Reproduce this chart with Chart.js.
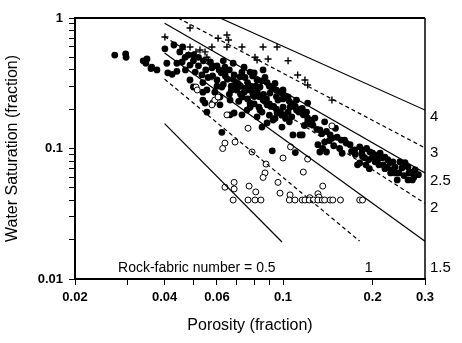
<!DOCTYPE html>
<html>
<head>
<meta charset="utf-8">
<script src="https://cdn.jsdelivr.net/npm/chart.js@4"></script>
<style>
html,body{margin:0;padding:0;background:#fff;}
</style>
</head>
<body>
<canvas id="chartSw" width="462" height="343"></canvas>
<script>

/* TICKS */

const xTickValues=[0.02,0.03,0.04,0.05,0.06,0.07,0.08,0.09,0.1,0.2,0.3];
const xTickLabels=['0.02','','0.04','','0.06','','','','0.1','0.2','0.3'];
const yTickValues=[0.01,0.02,0.03,0.04,0.05,0.06,0.07,0.08,0.09,0.1,0.2,0.3,0.4,0.5,0.6,0.7,0.8,0.9,1];
const yTickLabels=['0.01','','','','','','','','','0.1','','','','','','','','','1'];

/* ROCK-FABRIC LINES */

const lineNumbers=['0.5','1','1.5','2','2.5','3','4'];
const lineStartPhi=[0.04,0.04,0.04,0.04,0.04,0.0444,0.0614];
const lineStartSw=[0.155,0.34,0.54,0.72,0.91,1,1];
const lineEndPhi=[0.0992,0.181,0.3,0.3,0.3,0.3,0.3];
const lineEndSw=[0.0192,0.0195,0.0195,0.038,0.065,0.101,0.197];
const lineDashed=[false,true,false,true,false,true,false];

/* SAMPLES */

const filledPhi=[0.0272,0.0296,0.0297,0.0339,0.0349,0.0346,0.036,0.0377,0.043,0.0401,0.0458,0.0407,0.0362,0.0424,0.0469,0.0487,0.0507,0.0534,0.0538,0.0577,
0.06,0.0623,0.0638,0.068,0.0685,0.07,0.0728,0.0745,0.0757,0.0775,0.0818,0.0837,0.0857,0.0884,0.0904,0.094,0.0962,0.1,0.104,0.1056,
0.111,0.116,0.121,0.0538,0.0581,0.0614,0.0664,0.0685,0.0775,0.0837,0.0884,0.041,0.044,0.0487,0.05,0.0555,0.059,0.0664,0.069,0.0717,
0.0728,0.0757,0.0793,0.0818,0.0857,0.0955,0.1,0.107,0.111,0.117,0.121,0.0623,0.0884,0.0926,0.0992,0.085,0.108,0.114,0.092,0.11,
0.121,0.0547,0.0555,0.0728,0.0614,0.0775,0.083,0.0538,
0.123,0.126,0.116,0.131,0.138,0.14,0.146,0.152,0.157,0.163,0.158,0.181,0.184,0.185,0.191,0.196,0.2,0.206,0.212,0.215,
0.22,0.225,0.229,0.234,0.238,0.247,0.251,0.257,0.263,0.272,0.278,0.181,0.188,0.194,0.2,0.204,0.208,0.217,0.224,0.232,
0.238,0.242,0.263,0.272,0.178,0.133,0.136,0.161,0.185,0.128,0.133,0.138,0.144,0.15,0.101,0.168,0.174,
0.045,0.048,0.05,0.052,0.055,0.058,0.062,0.065,0.067,0.07,0.072,0.074,0.078,0.08,0.082,0.086,0.088,0.09,0.093,0.095,
0.098,0.102,0.105,0.06,0.064,0.066,0.071,0.076,0.079,0.052,0.057,0.047,0.044,0.063,0.066,0.081,0.087,0.092,0.097,0.1,
0.108,0.113,0.118,0.125,0.13,0.135,0.14,0.143,0.148,0.155,0.17,0.175,0.19,0.195,0.21,0.22,0.23,0.245,0.255,0.265,0.275,0.285,
0.046,0.05,0.054,0.058,0.061,0.064,0.068,0.071,0.075,0.079,0.083,0.087,0.091,0.095,0.099,0.104,0.063,0.067,0.072,0.076,
0.08,0.085,0.09,0.094,0.056,0.06,0.074,0.08,0.085,0.09,0.095,0.1,0.105,0.11,0.115,0.12];
const filledSw=[0.52,0.53,0.50,0.47,0.485,0.45,0.41,0.40,0.621,0.58,0.46,0.45,0.42,0.37,0.50,0.436,0.385,0.366,0.32,0.415,
0.335,0.296,0.42,0.45,0.366,0.32,0.385,0.35,0.281,0.385,0.335,0.296,0.40,0.32,0.266,0.315,0.235,0.281,0.248,0.207,
0.235,0.203,0.223,0.235,0.223,0.248,0.235,0.187,0.207,0.197,0.216,0.38,0.45,0.335,0.296,0.281,0.27,0.181,0.307,0.354,
0.248,0.197,0.257,0.175,0.235,0.187,0.207,0.175,0.197,0.181,0.171,0.133,0.157,0.165,0.146,0.146,0.127,0.127,0.096,0.093,
0.16,0.223,0.19,0.181,0.216,0.223,0.207,0.27,
0.154,0.151,0.127,0.107,0.112,0.094,0.12,0.122,0.116,0.11,0.092,0.103,0.092,0.0975,0.10,0.094,0.092,0.089,0.092,0.085,
0.086,0.082,0.078,0.079,0.072,0.079,0.071,0.078,0.072,0.066,0.0685,0.0775,0.085,0.082,0.086,0.079,0.082,0.075,0.072,0.0685,
0.065,0.0574,0.0574,0.0574,0.075,0.094,0.10,0.116,0.087,0.171,0.139,0.16,0.127,0.143,0.181,0.107,0.0975,
0.55,0.52,0.47,0.43,0.40,0.36,0.38,0.34,0.30,0.28,0.30,0.27,0.30,0.25,0.27,0.26,0.24,0.22,0.21,0.25,
0.19,0.17,0.16,0.43,0.39,0.26,0.23,0.32,0.36,0.50,0.46,0.40,0.39,0.47,0.40,0.30,0.35,0.29,0.27,0.24,
0.22,0.19,0.15,0.165,0.14,0.13,0.135,0.115,0.105,0.10,0.095,0.09,0.075,0.07,0.075,0.07,0.065,0.065,0.062,0.065,0.06,0.063,
0.60,0.52,0.47,0.43,0.40,0.36,0.34,0.31,0.29,0.27,0.25,0.23,0.21,0.20,0.18,0.19,0.31,0.28,0.26,0.24,
0.22,0.19,0.18,0.17,0.35,0.30,0.42,0.38,0.33,0.30,0.28,0.26,0.23,0.21,0.20,0.19];

const openPhi=[0.051,0.0515,0.059,0.0577,0.0648,0.0605,0.0763,0.0638,0.069,0.0787,0.0627,0.0877,0.087,0.0857,0.1,0.106,0.121,0.117,0.0962,0.0685,
0.0638,0.0685,0.0769,0.081,0.0977,0.1056,0.136,0.123,0.131,0.132,0.146,
0.068,0.0763,0.0805,0.0843,0.105,0.1097,0.116,0.1185,0.1225,0.1265,0.131,0.1355,0.138,0.144,0.147,0.156,0.181,0.185];
const openSw=[0.296,0.281,0.235,0.216,0.181,0.248,0.143,0.11,0.112,0.094,0.10,0.076,0.065,0.06,0.0845,0.103,0.083,0.066,0.055,0.055,
0.0505,0.049,0.0515,0.0465,0.0455,0.0441,0.0515,0.042,0.045,0.0425,0.149,
0.0403,0.0403,0.0403,0.0403,0.0403,0.0403,0.0403,0.0403,0.0403,0.0403,0.0403,0.0403,0.0403,0.0403,0.0403,0.0403,0.0403,0.0403];

const plusPhi=[0.0487,0.0401,0.0487,0.051,0.0526,0.0547,0.0577,0.0555,0.0605,0.0648,0.0656,0.0648,0.0728,0.0805,0.0857,0.0955,0.0891,0.104,0.112,0.1185,
0.121,0.146,0.0561,0.0818,0.0577];
const plusSw=[0.838,0.715,0.60,0.55,0.568,0.55,0.60,0.50,0.70,0.741,0.678,0.60,0.60,0.50,0.60,0.60,0.485,0.47,0.366,0.335,
0.307,0.235,0.477,0.477,0.354];

/* TEXTS */

const rightLabels=['4','3','2.5','2','1.5'];
const rightLabelSw=[0.174,0.0924,0.0564,0.035,0.0121];
const bottomLabels=['Rock-fabric number = 0.5','1'];
const bottomLabelPhi=[0.0279,0.194];

function toPoints(xs,ys){
return xs.map((v,i)=>({x:v,y:ys[i]}));
}

let datasets=[];

lineNumbers.forEach((n,i)=>{
datasets.push({
label:'RFN '+n,
data:[{x:lineStartPhi[i],y:lineStartSw[i]},{x:lineEndPhi[i],y:lineEndSw[i]}],
showLine:true,
borderColor:'#000',
borderWidth:1.2,
borderDash:lineDashed[i]?[4,3]:[],
pointRadius:0,
fill:false
});
});

datasets.push({
label:'open',
data:toPoints(openPhi,openSw),
pointStyle:'circle',
pointRadius:3,
backgroundColor:'#fff',
borderColor:'#000',
borderWidth:1
});

datasets.push({
label:'filled',
data:toPoints(filledPhi,filledSw),
pointStyle:'circle',
pointRadius:3.4,
backgroundColor:'#000',
borderColor:'#000',
borderWidth:0
});

datasets.push({
label:'plus',
data:toPoints(plusPhi,plusSw),
pointStyle:'cross',
pointRadius:3.5,
borderColor:'#000',
borderWidth:1.4
});

/* FRAME + LABELS */

const framePlugin={
id:'frame',
afterDraw(chart){
const ctx=chart.ctx;
const a=chart.chartArea;
const ys=chart.scales.y;
const xs=chart.scales.x;
ctx.save();
ctx.strokeStyle='#000';
ctx.lineWidth=2;
ctx.beginPath();
ctx.moveTo(a.left,a.top);
ctx.lineTo(a.right,a.top);
ctx.stroke();
ctx.lineWidth=1.5;
ctx.beginPath();
ctx.moveTo(a.right,a.top);
ctx.lineTo(a.right,a.bottom);
ctx.stroke();

ctx.fillStyle='#000';
ctx.textBaseline='middle';
ctx.font='15px Arial, "Liberation Sans", sans-serif';
ctx.textAlign='left';
rightLabels.forEach((t,i)=>{
ctx.fillText(t,a.right+5,ys.getPixelForValue(rightLabelSw[i]));
});
let yb=ys.getPixelForValue(0.0121);
ctx.font='14px Arial, "Liberation Sans", sans-serif';
ctx.fillText(bottomLabels[0],xs.getPixelForValue(bottomLabelPhi[0]),yb);
ctx.font='15px Arial, "Liberation Sans", sans-serif';
ctx.textAlign='center';
ctx.fillText(bottomLabels[1],xs.getPixelForValue(bottomLabelPhi[1]),yb);
ctx.restore();
}
};

Chart.defaults.font.family='Arial, "Liberation Sans", sans-serif';
Chart.defaults.color='#000';

new Chart(document.getElementById('chartSw'),{

type:'scatter',

data:{datasets:datasets},

options:{
responsive:false,
animation:false,
devicePixelRatio:1,
layout:{padding:{top:18,right:37,left:0,bottom:0}},

plugins:{
legend:{display:false},
tooltip:{enabled:false}
},

scales:{
x:{
type:'logarithmic',
min:0.02,
max:0.3,
afterBuildTicks(scale){scale.ticks=xTickValues.map(v=>({value:v}));},
afterFit(scale){scale.height=64;},
ticks:{
autoSkip:false,
maxRotation:0,
padding:5,
font:{size:13,weight:'bold'},
color:'#000',
callback:(v,i)=>xTickLabels[i]
},
grid:{drawOnChartArea:false,drawTicks:true,tickLength:6,color:'#000',lineWidth:1},
border:{color:'#000',width:2},
title:{display:true,text:'Porosity (fraction)',font:{size:16},color:'#000',padding:{top:0,bottom:8}}
},
y:{
type:'logarithmic',
min:0.01,
max:1,
afterBuildTicks(scale){scale.ticks=yTickValues.map(v=>({value:v}));},
afterFit(scale){scale.width=75;},
ticks:{
autoSkip:false,
padding:6,
font:{size:13,weight:'bold'},
color:'#000',
callback:(v,i)=>yTickLabels[i]
},
grid:{drawOnChartArea:false,drawTicks:true,tickLength:6,color:'#000',lineWidth:1},
border:{color:'#000',width:2},
title:{display:true,text:'Water Saturation (fraction)',font:{size:16},color:'#000',padding:{top:3,bottom:0}}
}
}
},

plugins:[framePlugin]

});

</script>
</body>
</html>
